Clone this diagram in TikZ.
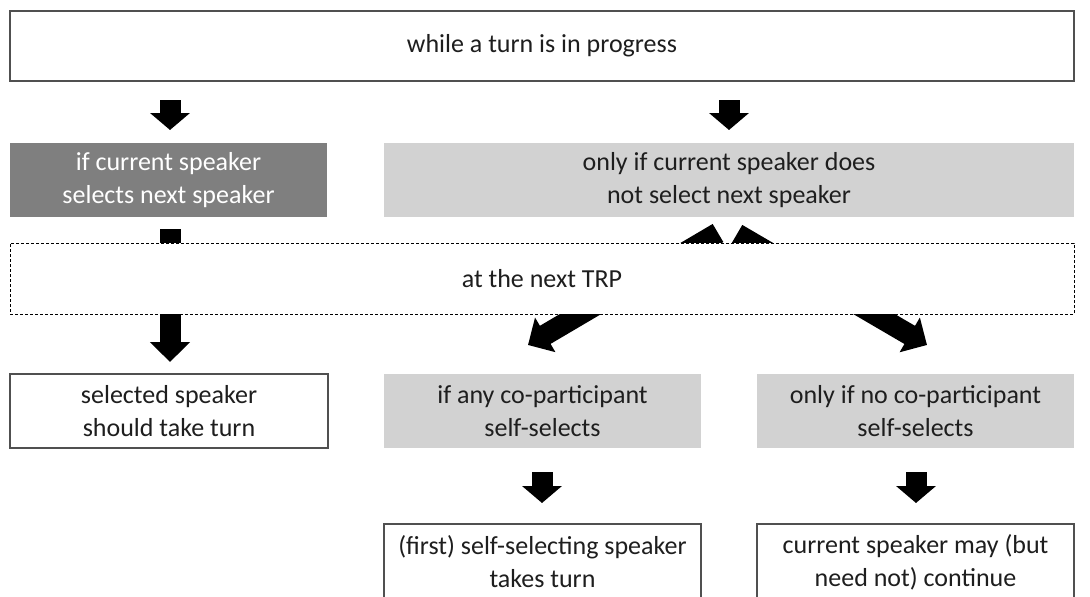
\documentclass[tikz,border=0pt]{standalone}
\usepackage{fontspec}
\setmainfont{Carlito}
\usetikzlibrary{arrows.meta}
\definecolor{darkfill}{RGB}{127,127,127}
\definecolor{lightfill}{RGB}{210,210,210}
\definecolor{frame}{RGB}{80,80,80}
\definecolor{ink}{RGB}{30,30,30}
\tikzset{
  box/.style={rectangle, inner sep=0pt, align=center, text=ink, font=\fontsize{26}{33}\selectfont},
  whitebox/.style={box, draw=frame, line width=1.1pt, fill=white},
  darkbox/.style={box, fill=darkfill, text=white},
  lightbox/.style={box, fill=lightfill},
  dashbox/.style={box, draw=black, line width=0.9pt, dash pattern=on 3pt off 2pt, fill=white},
  smallarrow/.style={draw=black, line width=21pt, -{Triangle[width=39pt,length=17pt]}},
  bigarrow/.style={draw=black, line width=21pt, -{Triangle[width=39pt,length=20pt]}}
}
\begin{document}
\begin{tikzpicture}[x=1pt,y=-1pt]
\useasboundingbox (0,0) rectangle (1090,597);
\clip (0,0) rectangle (1090,597);
\fill[white] (0,0) rectangle (1090,597);

% arrow end points
\coordinate (a1s) at (170,100); \coordinate (a1e) at (170,130);
\coordinate (a2s) at (729,100); \coordinate (a2e) at (729,130);
\coordinate (a3s) at (170,229); \coordinate (a3e) at (170,362);
\coordinate (a4s) at (718,233); \coordinate (a4e) at (528,345);
\coordinate (a5s) at (737,234); \coordinate (a5e) at (927,345);
\coordinate (a6s) at (542,472); \coordinate (a6e) at (542,503);
\coordinate (a7s) at (916,472); \coordinate (a7e) at (916,503);

% boxes
\node[whitebox, minimum width=1064pt, minimum height=70pt] (top) at (542,46) {while a turn is in progress};
\node[darkbox, minimum width=317pt, minimum height=74pt] (dark) at (168.5,180) {if current speaker\\selects next speaker};
\node[lightbox, minimum width=690pt, minimum height=74pt] (light) at (729,180) {only if current speaker does\\not select next speaker};

% arrows behind the TRP box
\draw[smallarrow] (a1s) -- (a1e);
\draw[smallarrow] (a2s) -- (a2e);
\draw[bigarrow] (a3s) -- (a3e);
\draw[bigarrow] (a4s) -- (a4e);
\draw[bigarrow] (a5s) -- (a5e);

\node[dashbox, minimum width=1064pt, minimum height=71pt] (trp) at (542,278.5) {at the next TRP};

\node[whitebox, minimum width=318pt, minimum height=74pt] (sel) at (169,411) {selected speaker\\should take turn};
\node[lightbox, minimum width=317pt, minimum height=74pt] (any) at (542.5,411) {if any co-participant\\self-selects};
\node[lightbox, minimum width=317pt, minimum height=74pt] (none) at (915.5,411) {only if no co-participant\\self-selects};

\draw[smallarrow] (a6s) -- (a6e);
\draw[smallarrow] (a7s) -- (a7e);

\node[whitebox, minimum width=317pt, minimum height=76pt] (first) at (542.5,562) {(first) self-selecting speaker\\takes turn};
\node[whitebox, minimum width=317pt, minimum height=76pt] (cont) at (915.5,562) {current speaker may (but\\need not) continue};
\end{tikzpicture}
\end{document}
